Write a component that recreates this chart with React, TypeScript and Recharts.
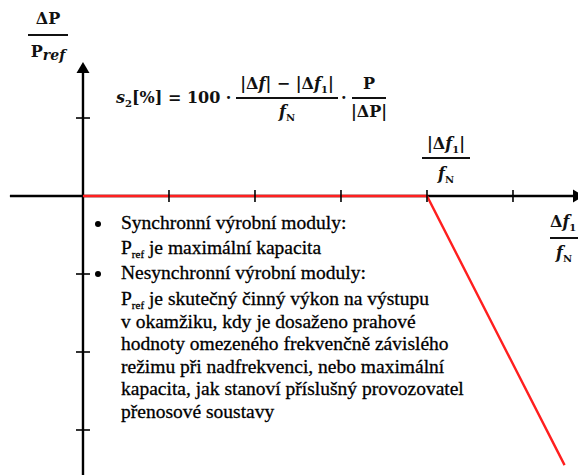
import React from "react";
import { ComposedChart, XAxis, YAxis, Line, Scatter } from "recharts";

// ---- data ----
const xTicks = [1, 2, 3, 4, 5];
const yTicks = [1, -1, -2, -3];
const curveX = [0, 4, 5.6];
const curveY = [0, 0, -3.45];
const xAxisLineX = [-0.85, 5.7];
const yAxisLineY = [-3.6, 1.6];
const xArrowAt = 5.698;
const yArrowAt = 1.718;

const xDomain: [number, number] = [-0.965, 5.756];
const yDomain: [number, number] = [-3.577, 2.513];

const curveData = curveX.map((x, i) => ({ x, y: curveY[i] }));
const xAxisData = xAxisLineX.map((x) => ({ x, y: 0 }));
const yAxisData = yAxisLineY.map((y) => ({ x: 0, y }));
const markData = [
  ...xTicks.map((x) => ({ x, y: 0, kind: "v" })),
  ...yTicks.map((y) => ({ x: 0, y, kind: "h" })),
  { x: 0, y: yArrowAt, kind: "up" },
  { x: xArrowAt, y: 0, kind: "right" },
];

const W = 578;
const H = 475;

const textFont = '"Liberation Serif", serif';
const mathFont = '"DejaVu Serif", serif';
const ink = "#111";

const Mark = (p: any) => {
  const { cx, cy } = p;
  const kind = p.payload?.kind ?? p.kind;
  if (kind === "v")
    return <line x1={cx} x2={cx} y1={cy - 6} y2={cy + 6} stroke="#000" strokeWidth={1.6} />;
  if (kind === "h")
    return <line x1={cx - 7} x2={cx + 7} y1={cy} y2={cy} stroke="#000" strokeWidth={1.6} />;
  if (kind === "up")
    return <path d={`M${cx},${cy} L${cx - 6.5},${cy + 11} L${cx + 6.5},${cy + 11} Z`} fill="#000" stroke="none" />;
  return <path d={`M${cx + 11},${cy} L${cx},${cy - 6.5} L${cx},${cy + 6.5} Z`} fill="#000" stroke="none" />;
};
const Empty = (p: any) => <g key={`e-${p.index}`} />;

const abs = (left: number, top: number, extra: React.CSSProperties = {}): React.CSSProperties => ({
  position: "absolute",
  left,
  top,
  whiteSpace: "nowrap",
  ...extra,
});

const Bar = ({ left, top, width }: { left: number; top: number; width: number }) => (
  <div style={abs(left, top, { width, height: 1.6, background: ink })} />
);

const I = ({ children }: { children: React.ReactNode }) => <i>{children}</i>;
const Sub = ({ children, size = 10 }: { children: React.ReactNode; size?: number }) => (
  <span style={{ fontSize: size, position: "relative", top: 4 }}>{children}</span>
);

const mathStyle: React.CSSProperties = {
  fontFamily: mathFont,
  fontWeight: "bold",
  fontSize: 16,
  lineHeight: "20px",
  color: ink,
};

const textStyle: React.CSSProperties = {
  fontFamily: textFont,
  fontSize: 19.5,
  lineHeight: "22px",
  color: "#000",
  WebkitTextStroke: "0.3px #000",
};

type BLine = { top: number; bullet?: boolean; pref?: boolean; text: string };
const bulletLines: BLine[] = [
  { top: 212, bullet: true, text: "Synchronní výrobní moduly:" },
  { top: 237, pref: true, text: " je maximální kapacita" },
  { top: 262, bullet: true, text: "Nesynchronní výrobní moduly:" },
  { top: 288, pref: true, text: " je skutečný činný výkon na výstupu" },
  { top: 311, text: "v okamžiku, kdy je dosaženo prahové" },
  { top: 333, text: "hodnoty omezeného frekvenčně závislého" },
  { top: 356, text: "režimu při nadfrekvenci, nebo maximální" },
  { top: 378, text: "kapacita, jak stanoví příslušný provozovatel" },
  { top: 401, text: "přenosové soustavy" },
];

export default function App() {
  return (
    <div
      style={{
        position: "absolute",
        left: 0,
        top: 0,
        width: W,
        height: H,
        background: "#fff",
        overflow: "hidden",
      }}
    >
      <ComposedChart width={W} height={H} margin={{ top: 0, right: 0, bottom: 0, left: 0 }}>
        <XAxis type="number" dataKey="x" domain={xDomain} allowDataOverflow hide />
        <YAxis type="number" dataKey="y" domain={yDomain} allowDataOverflow hide />
        <Line
          data={xAxisData}
          dataKey="y"
          stroke="#000"
          strokeWidth={2.4}
          dot={Empty}
          activeDot={false}
          isAnimationActive={false}
        />
        <Line
          data={yAxisData}
          dataKey="y"
          stroke="#000"
          strokeWidth={2.4}
          dot={Empty}
          activeDot={false}
          isAnimationActive={false}
        />
        <Line
          data={curveData}
          dataKey="y"
          type="linear"
          stroke="#ff1f1f"
          strokeWidth={2.4}
          dot={Empty}
          activeDot={false}
          isAnimationActive={false}
        />
        <Scatter data={markData} dataKey="y" shape={Mark} isAnimationActive={false} />
      </ComposedChart>

      {/* y-axis label ΔP / Pref */}
      <div style={{ ...mathStyle }}>
        <div style={abs(26, 9, { width: 44, textAlign: "center" })}>ΔP</div>
        <Bar left={28} top={34} width={40} />
        <div style={abs(26, 42, { width: 44, textAlign: "center" })}>
          P<I>
            <span style={{ position: "relative", top: 3, fontSize: 14 }}>ref</span>
          </I>
        </div>
      </div>

      {/* formula */}
      <div style={{ ...mathStyle }}>
        <div style={abs(116, 88)}>
          <I>s</I>
          <Sub>2</Sub>[%] = 100 ·
        </div>
        <div style={abs(233, 74, { width: 108, textAlign: "center" })}>
          |Δ<I>f</I>| − |Δ<I>f</I>
          <Sub>1</Sub>|
        </div>
        <Bar left={236} top={97} width={102} />
        <div style={abs(236, 102, { width: 102, textAlign: "center" })}>
          <I>f</I>
          <Sub>N</Sub>
        </div>
        <div style={abs(341, 88)}>·</div>
        <div style={abs(352, 74, { width: 34, textAlign: "center" })}>P</div>
        <Bar left={352} top={97} width={34} />
        <div style={abs(350, 102, { width: 38, textAlign: "center" })}>|ΔP|</div>
      </div>

      {/* breakpoint label */}
      <div style={{ ...mathStyle }}>
        <div style={abs(419, 134, { width: 54, textAlign: "center" })}>
          |Δ<I>f</I>
          <Sub>1</Sub>|
        </div>
        <Bar left={422} top={157} width={48} />
        <div style={abs(421, 164, { width: 50, textAlign: "center" })}>
          <I>f</I>
          <Sub>N</Sub>
        </div>
      </div>

      {/* x-axis label */}
      <div style={{ ...mathStyle }}>
        <div style={abs(550, 212)}>
          Δ<I>f</I>
          <Sub>1</Sub>
        </div>
        <Bar left={550} top={237} width={40} />
        <div style={abs(556, 243)}>
          <I>f</I>
          <Sub>N</Sub>
        </div>
      </div>

      {/* bullet text */}
      <div style={textStyle}>
        {bulletLines.map((l, i) => (
          <div key={i} style={abs(121, l.top)}>
            {l.bullet && (
              <span
                style={{
                  position: "absolute",
                  left: -26,
                  top: 9,
                  width: 6,
                  height: 6,
                  borderRadius: 3,
                  background: "#000",
                }}
              />
            )}
            {l.pref ? (
              <>
                P<span style={{ fontSize: 11, position: "relative", top: 4 }}>ref</span>
              </>
            ) : null}
            {l.text}
          </div>
        ))}
      </div>
    </div>
  );
}
